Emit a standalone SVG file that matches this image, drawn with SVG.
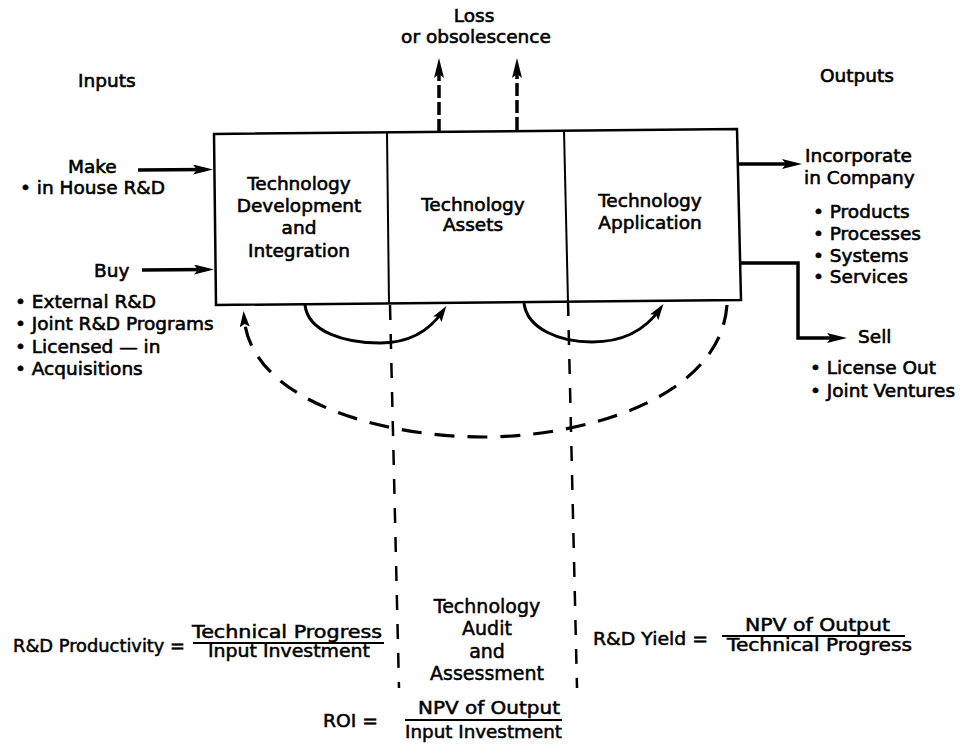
<svg xmlns="http://www.w3.org/2000/svg" width="970" height="755" viewBox="0 0 970 755">
<style>
.t{font-family:"DejaVu Sans","Liberation Sans",sans-serif;font-size:18.5px;fill:#000;stroke:#000;stroke-width:0.6}
.m{text-anchor:middle}
.f{font-family:"DejaVu Sans","Liberation Sans",sans-serif;font-size:17px;fill:#000;stroke:#000;stroke-width:0.5}
.g{font-family:"DejaVu Sans","Liberation Sans",sans-serif;font-size:19px;fill:#000;stroke:#000;stroke-width:0.5;text-anchor:middle}
.box{fill:#fff;stroke:#000;stroke-width:2.5;stroke-linejoin:miter}
.div{fill:none;stroke:#000;stroke-width:2}
.solid{fill:none;stroke:#000;stroke-width:3.5}
.curve{fill:none;stroke:#000;stroke-width:3}
.dash{fill:none;stroke:#000;stroke-width:3.2;stroke-dasharray:20 13}
.vdash{fill:none;stroke:#000;stroke-width:2.5;stroke-dasharray:15 14}
.ldash{fill:none;stroke:#000;stroke-width:3.5;stroke-dasharray:13 4}
.bar{stroke:#000;stroke-width:2}
</style>
<defs>
<marker id="ah" viewBox="0 0 20 10" refX="12" refY="5" markerWidth="20" markerHeight="10" markerUnits="userSpaceOnUse" orient="auto">
<path d="M0,0 L20,5 L0,10 L4,5 z" fill="#000"/>
</marker>
<marker id="ahs" viewBox="0 0 16 10" refX="10" refY="5" markerWidth="16" markerHeight="10" markerUnits="userSpaceOnUse" orient="auto">
<path d="M0,0 L16,5 L0,10 L3,5 z" fill="#000"/>
</marker>
</defs>
<rect width="970" height="755" fill="#fff"/>

<g id="connectors">
<line class="solid" x1="138" y1="170" x2="205" y2="169.5" marker-end="url(#ah)"/>
<line class="solid" x1="142" y1="270" x2="206" y2="269.5" marker-end="url(#ah)"/>
<line class="solid" x1="738" y1="164" x2="794" y2="164" marker-end="url(#ah)"/>
<polyline class="solid" points="741,263 798,263 798,338 839,338" marker-end="url(#ah)"/>
<line class="ldash" x1="439" y1="132" x2="439" y2="66" marker-end="url(#ah)"/>
<line class="ldash" x1="517" y1="130" x2="517" y2="66" marker-end="url(#ah)"/>
<path class="curve" d="M305 305 C308 332 345 343 380 343 C410 343 430 330 443 311" marker-end="url(#ahs)"/>
<path class="curve" d="M524 303 C527 329 560 342 592 342 C624 342 646 329 660 309" marker-end="url(#ahs)"/>
<path class="dash" d="M727 305 C720 400 580 437 484 437 C380 437 250 400 244 317" marker-end="url(#ahs)"/>
<line class="vdash" x1="390" y1="305" x2="399" y2="688"/>
<line class="vdash" x1="568" y1="301" x2="577" y2="688"/>
</g>

<g id="process-box">
<polygon class="box" points="214,134 737,129 741,300 216,305"/>
<line class="div" x1="387" y1="132.5" x2="389" y2="304"/>
<line class="div" x1="564" y1="130.5" x2="568" y2="302"/>
</g>

<g id="tech-development">
<text class="t m" x="299" y="190">Technology</text>
<text class="t m" x="299" y="212">Development</text>
<text class="t m" x="299" y="234">and</text>
<text class="t m" x="299" y="257">Integration</text>
</g>

<g id="tech-assets">
<text class="t m" x="473" y="211">Technology</text>
<text class="t m" x="473" y="231">Assets</text>
</g>

<g id="tech-application">
<text class="t m" x="650" y="207">Technology</text>
<text class="t m" x="650" y="229">Application</text>
</g>

<g id="loss">
<text class="t m" x="474" y="22">Loss</text>
<text class="t m" x="476" y="43">or obsolescence</text>
</g>

<g id="inputs">
<text class="t" x="78" y="87">Inputs</text>
</g>

<g id="make">
<text class="t" x="68" y="173">Make</text>
<text class="t" x="20" y="194">• in House R&amp;D</text>
</g>

<g id="buy">
<text class="t" x="94" y="277">Buy</text>
<text class="t" x="15" y="308">• External R&amp;D</text>
<text class="t" x="15" y="330">• Joint R&amp;D Programs</text>
<text class="t" x="15" y="353">• Licensed — in</text>
<text class="t" x="15" y="375">• Acquisitions</text>
</g>

<g id="outputs">
<text class="t" x="820" y="82">Outputs</text>
</g>

<g id="incorporate">
<text class="t" x="805" y="162">Incorporate</text>
<text class="t" x="804" y="184">in Company</text>
<text class="t" x="813" y="218">• Products</text>
<text class="t" x="813" y="240">• Processes</text>
<text class="t" x="813" y="262">• Systems</text>
<text class="t" x="813" y="283">• Services</text>
</g>

<g id="sell">
<text class="t" x="858" y="343">Sell</text>
<text class="t" x="810" y="374">• License Out</text>
<text class="t" x="810" y="397">• Joint Ventures</text>
</g>

<g id="audit">
<text class="g" x="487" y="613">Technology</text>
<text class="g" x="487" y="635">Audit</text>
<text class="g" x="487" y="658">and</text>
<text class="g" x="487" y="680">Assessment</text>
</g>

<g id="rd-productivity">
<text class="f" x="13" y="652" textLength="172" lengthAdjust="spacingAndGlyphs">R&amp;D Productivity =</text>
<text class="f" x="192" y="638" textLength="190" lengthAdjust="spacingAndGlyphs">Technical Progress</text>
<line class="bar" x1="193" y1="643" x2="384" y2="643"/>
<text class="f" x="208" y="657" textLength="162" lengthAdjust="spacingAndGlyphs">Input Investment</text>
</g>

<g id="rd-yield">
<text class="f" x="593" y="645" textLength="115" lengthAdjust="spacingAndGlyphs">R&amp;D Yield =</text>
<text class="f" x="745" y="631" textLength="145" lengthAdjust="spacingAndGlyphs">NPV of Output</text>
<line class="bar" x1="722" y1="636" x2="905" y2="636"/>
<text class="f" x="727" y="651" textLength="185" lengthAdjust="spacingAndGlyphs">Technical Progress</text>
</g>

<g id="roi">
<text class="f" x="323" y="727" textLength="55" lengthAdjust="spacingAndGlyphs">ROI =</text>
<text class="f" x="418" y="714" textLength="142" lengthAdjust="spacingAndGlyphs">NPV of Output</text>
<line class="bar" x1="405" y1="720" x2="562" y2="720"/>
<text class="f" x="405" y="738" textLength="157" lengthAdjust="spacingAndGlyphs">Input Investment</text>
</g>
</svg>
